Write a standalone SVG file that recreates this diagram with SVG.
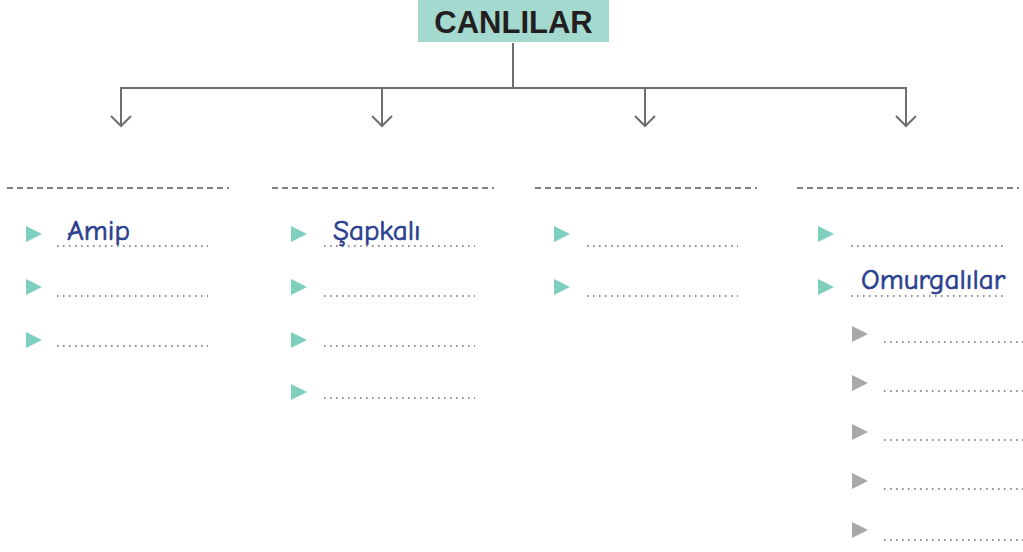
<svg xmlns="http://www.w3.org/2000/svg" width="1023" height="552" viewBox="0 0 1023 552">
<defs>
<style>
.conn{stroke:#6d6e71;stroke-width:2;fill:none}
.dash{stroke:#808285;stroke-width:1.8;stroke-dasharray:6 4;fill:none}
.dot{stroke:#6d6e71;stroke-width:1.6;stroke-dasharray:1.6 4.4;fill:none}
.tb{fill:#7fcfbf}
.gb{fill:#a7a9ac}
.hw{font-family:"Comic Neue","Comic Sans MS","DejaVu Sans",sans-serif;font-size:29px;fill:#2b3f8f;stroke:#2b3f8f;stroke-width:0.7}
.title{font-family:"Liberation Sans",Arial,sans-serif;font-weight:bold;font-size:31px;fill:#231f20}
</style>
<polygon id="tri" points="0,-8 16,0 0,8"/>
</defs>
<g id="root">
<rect x="418" y="0" width="191" height="42" fill="#a3d9cf"/>
<text class="title" x="513.5" y="33" text-anchor="middle">CANLILAR</text>
</g>
<g id="connectors">
<path class="conn" d="M513,43 V88 M120,88 H907"/>
<path class="conn" d="M121,88 V126 M111,116 L121,126 L131,116"/>
<path class="conn" d="M382,88 V126 M372,116 L382,126 L392,116"/>
<path class="conn" d="M645,88 V126 M635,116 L645,126 L655,116"/>
<path class="conn" d="M906,88 V126 M896,116 L906,126 L916,116"/>
</g>
<g id="col1">
<path class="dash" d="M7,188 H229"/>
<use href="#tri" class="tb" x="26" y="234"/>
<use href="#tri" class="tb" x="26" y="287"/>
<use href="#tri" class="tb" x="26" y="340"/>
<path class="dot" d="M57,246 H208 M57,296 H208 M57,346 H208"/>
<text class="hw" x="67" y="240">Amip</text>
</g>
<g id="col2">
<path class="dash" d="M272,188 H494"/>
<use href="#tri" class="tb" x="291" y="234"/>
<use href="#tri" class="tb" x="291" y="287"/>
<use href="#tri" class="tb" x="291" y="340"/>
<use href="#tri" class="tb" x="291" y="392"/>
<path class="dot" d="M324,246 H475 M324,296 H475 M324,346 H475 M324,398 H475"/>
<text class="hw" x="333" y="240">Şapkalı</text>
</g>
<g id="col3">
<path class="dash" d="M535,188 H757"/>
<use href="#tri" class="tb" x="554" y="234"/>
<use href="#tri" class="tb" x="554" y="287"/>
<path class="dot" d="M587,246 H738 M587,296 H738"/>
</g>
<g id="col4">
<path class="dash" d="M797,188 H1019"/>
<use href="#tri" class="tb" x="818" y="234"/>
<use href="#tri" class="tb" x="818" y="287"/>
<path class="dot" d="M851,246 H1003 M851,296 H1003"/>
<text class="hw" x="861" y="289">Omurgalılar</text>
<use href="#tri" class="gb" x="852" y="334"/>
<use href="#tri" class="gb" x="852" y="383"/>
<use href="#tri" class="gb" x="852" y="432"/>
<use href="#tri" class="gb" x="852" y="481"/>
<use href="#tri" class="gb" x="852" y="530"/>
<path class="dot" d="M884,342 H1023 M884,391 H1023 M884,440 H1023 M884,489 H1023 M884,540 H1023"/>
</g>
</svg>
